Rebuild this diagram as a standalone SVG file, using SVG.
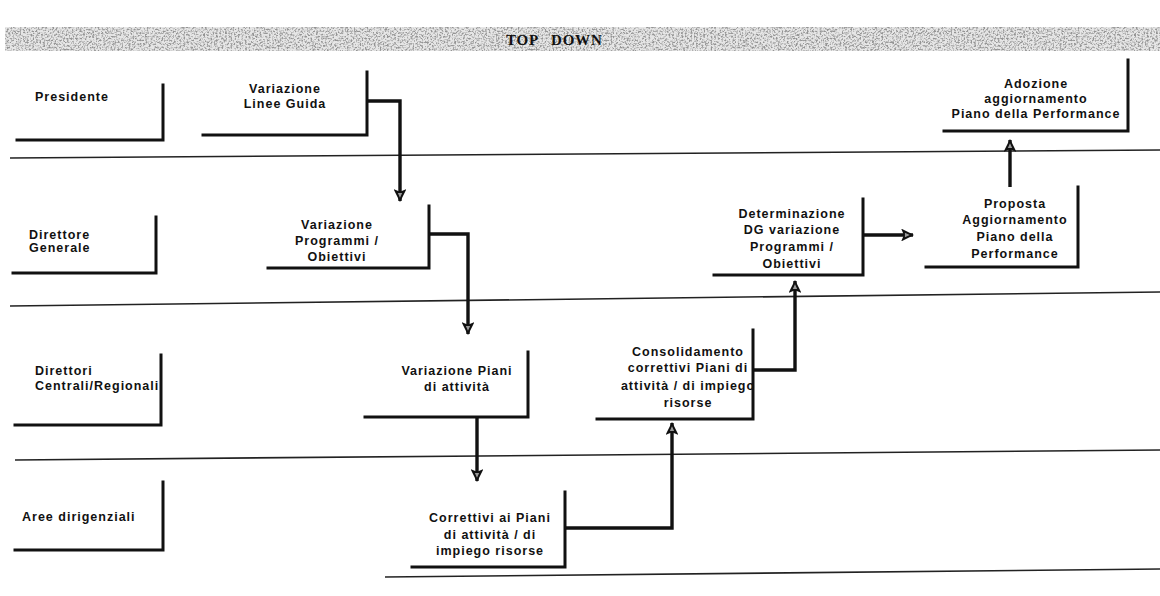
<svg xmlns="http://www.w3.org/2000/svg" width="1160" height="596" viewBox="0 0 1160 596">
  <style>
    .lbl { font-family: "Liberation Sans", Arial, sans-serif; font-size: 12.5px; font-weight: bold; fill: #111; letter-spacing: 1px; }
    .mid { text-anchor: middle; }
    .frame { fill: none; stroke: #111; stroke-width: 3; stroke-linecap: square; }
    .lane { fill: none; stroke: #222; stroke-width: 1.6; }
    .flow { fill: none; stroke: #111; stroke-width: 3.4; stroke-linejoin: miter; }
    .title { font-family: "Liberation Serif", "Times New Roman", serif; font-size: 15px; font-weight: bold; fill: #111; letter-spacing: 0.8px; }
  </style>
  <defs>
    <marker id="head" viewBox="0 0 12 12" refX="11" refY="6" markerWidth="3.8" markerHeight="3.8" orient="auto" markerUnits="strokeWidth">
      <path d="M0,0 L12,6 L0,12 L2.5,6 Z" fill="#111"/>
      <path d="M3.5,4 L8,6 L3.5,8 Z" fill="#9a9a9a"/>
    </marker>
    <filter id="grain" x="0" y="0" width="100%" height="100%">
      <feTurbulence type="fractalNoise" baseFrequency="0.55" numOctaves="3" seed="11" result="noise"/>
      <feColorMatrix in="noise" type="matrix" values="0 0 0 0 0.3  0 0 0 0 0.3  0 0 0 0 0.3  3.6 0 0 0 -1.6" result="dots"/>
      <feComposite in="dots" in2="SourceGraphic" operator="in"/>
    </filter>
  </defs>

  <rect width="1160" height="596" fill="#ffffff"/>

  <!-- speckled title band -->
  <g id="banner">
    <rect x="5" y="27" width="1155" height="24" fill="#e6e6e6"/>
    <rect x="5" y="27" width="1155" height="24" fill="#000" filter="url(#grain)"/>
    <text class="title" x="506" y="45">TOP</text>
    <text class="title" x="551" y="45">DOWN</text>
  </g>

  <!-- swimlane separators -->
  <g id="lanes">
    <line class="lane" x1="10" y1="158" x2="1160" y2="150"/>
    <line class="lane" x1="10" y1="306" x2="1160" y2="292"/>
    <line class="lane" x1="15" y1="460" x2="1160" y2="450"/>
    <line class="lane" x1="385" y1="577" x2="1160" y2="569"/>
  </g>

  <!-- lane labels -->
  <g id="lane-presidente">
    <path class="frame" d="M17,140 H163 V85"/>
    <text class="lbl" x="35" y="101">Presidente</text>
  </g>
  <g id="lane-direttore-generale">
    <path class="frame" d="M13,273 H156 V217"/>
    <text class="lbl" x="29" y="239">Direttore</text>
    <text class="lbl" x="29" y="252">Generale</text>
  </g>
  <g id="lane-direttori-centrali">
    <path class="frame" d="M15,425 H161 V355"/>
    <text class="lbl" x="35" y="375">Direttori</text>
    <text class="lbl" x="35" y="390">Centrali/Regionali</text>
  </g>
  <g id="lane-aree">
    <path class="frame" d="M15,550 H163 V482"/>
    <text class="lbl" x="22" y="521">Aree dirigenziali</text>
  </g>

  <!-- process steps -->
  <g id="step-linee-guida">
    <path class="frame" d="M203,135 H367 V72"/>
    <text class="lbl mid" x="285" y="93">Variazione</text>
    <text class="lbl mid" x="285" y="108">Linee Guida</text>
  </g>
  <g id="step-programmi">
    <path class="frame" d="M268,268 H429 V206"/>
    <text class="lbl mid" x="337" y="229">Variazione</text>
    <text class="lbl mid" x="337" y="245">Programmi /</text>
    <text class="lbl mid" x="337" y="261">Obiettivi</text>
  </g>
  <g id="step-piani">
    <path class="frame" d="M365,417 H528 V352"/>
    <text class="lbl mid" x="457" y="375">Variazione Piani</text>
    <text class="lbl mid" x="457" y="391">di attività</text>
  </g>
  <g id="step-correttivi">
    <path class="frame" d="M412,567 H565 V492"/>
    <text class="lbl mid" x="490" y="522">Correttivi ai Piani</text>
    <text class="lbl mid" x="490" y="539">di attività / di</text>
    <text class="lbl mid" x="490" y="555">impiego risorse</text>
  </g>
  <g id="step-consolidamento">
    <path class="frame" d="M597,419 H753 V330"/>
    <text class="lbl mid" x="688" y="356">Consolidamento</text>
    <text class="lbl mid" x="688" y="372">correttivi Piani di</text>
    <text class="lbl mid" x="688" y="390">attività / di impiego</text>
    <text class="lbl mid" x="688" y="407">risorse</text>
  </g>
  <g id="step-determinazione">
    <path class="frame" d="M714,275 H863 V199"/>
    <text class="lbl mid" x="792" y="218">Determinazione</text>
    <text class="lbl mid" x="792" y="234">DG variazione</text>
    <text class="lbl mid" x="792" y="251">Programmi /</text>
    <text class="lbl mid" x="792" y="268">Obiettivi</text>
  </g>
  <g id="step-proposta">
    <path class="frame" d="M926,267 H1078 V187"/>
    <text class="lbl mid" x="1015" y="208">Proposta</text>
    <text class="lbl mid" x="1015" y="224">Aggiornamento</text>
    <text class="lbl mid" x="1015" y="241">Piano della</text>
    <text class="lbl mid" x="1015" y="258">Performance</text>
  </g>
  <g id="step-adozione">
    <path class="frame" d="M944,131 H1128 V60"/>
    <text class="lbl mid" x="1036" y="88">Adozione</text>
    <text class="lbl mid" x="1036" y="103">aggiornamento</text>
    <text class="lbl mid" x="1036" y="118">Piano della Performance</text>
  </g>

  <!-- flow connectors -->
  <g id="connectors">
    <path class="flow" d="M367,101 H400 V201" marker-end="url(#head)"/>
    <path class="flow" d="M429,234 H468 V334" marker-end="url(#head)"/>
    <path class="flow" d="M477,417 V481" marker-end="url(#head)"/>
    <path class="flow" d="M565,528 H672 V423" marker-end="url(#head)"/>
    <path class="flow" d="M753,370 H795 V281" marker-end="url(#head)"/>
    <path class="flow" d="M863,235 H913" marker-end="url(#head)"/>
    <path class="flow" d="M1010,187 V140" marker-end="url(#head)"/>
  </g>
</svg>
